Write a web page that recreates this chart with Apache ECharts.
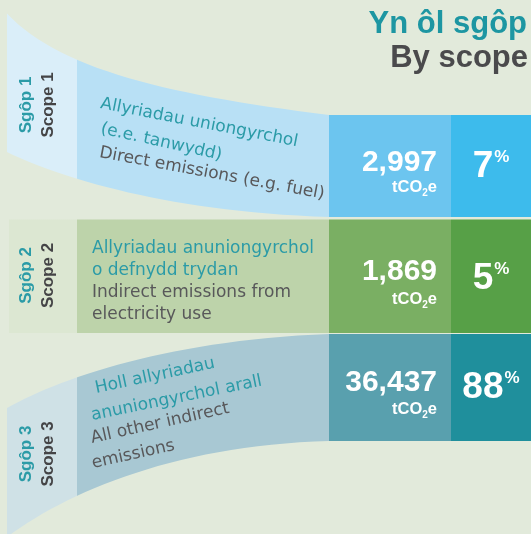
<!DOCTYPE html>
<html>
<head>
<meta charset="utf-8">
<script src="https://cdn.jsdelivr.net/npm/echarts@6/dist/echarts.min.js"></script>
<style>
  html, body { margin: 0; padding: 0; background: #e2eadb; }
  #main { width: 531px; height: 534px; }
</style>
</head>
<body>
<div id="main"></div>
<script>
// data
var scopeWelsh = ['Sgôp 1', 'Sgôp 2', 'Sgôp 3'];
var scopeEnglish = ['Scope 1', 'Scope 2', 'Scope 3'];
var descWelsh = [
  ['Allyriadau uniongyrchol', '(e.e. tanwydd)'],
  ['Allyriadau anuniongyrchol', 'o defnydd trydan'],
  ['Holl allyriadau', 'anuniongyrchol arall']
];
var descEnglish = [
  ['Direct emissions (e.g. fuel)'],
  ['Indirect emissions from', 'electricity use'],
  ['All other indirect', 'emissions']
];
var emissions = [2997, 1869, 36437];   // tCO2e
var shares = [7, 5, 88];               // %
var titleWelsh = 'Yn ôl sgôp';
var titleEnglish = 'By scope';

// layout (pixels, grid maps 1:1)
var BOX_L = 329, BOX_M = 451, BOX_R = 531, STRIP = 77;
var rows = [
  {
    left: 7,
    top: [[7, 13.5], [60, 70], [170, 95], [BOX_L, 115]],
    bottom: [[7, 152], [60, 178], [170, 212], [BOX_L, 217]],
    colors: ['#daeef9', '#b8e0f5', '#6cc5ef', '#3dbbec'],
    labelY: 105,
    lines: [[99, 108, -11], [99, 133, -12.5], [98, 157, -10.5]],
    valueY: 162.5, unitY: 187, pctY: 167
  },
  {
    left: 9,
    top: [[9, 219.5], [100, 219.5], [200, 219.5], [BOX_L, 219.5]],
    bottom: [[9, 333], [100, 333], [200, 333], [BOX_L, 333]],
    colors: ['#dce7d2', '#bdd3aa', '#7aaf63', '#57a047'],
    labelY: 275.5,
    lines: [[92, 253, 0], [92, 275, 0], [92, 297, 0], [92, 319, 0]],
    valueY: 272, unitY: 299, pctY: 278.5
  },
  {
    left: 7,
    top: [[7, 408], [60, 378], [170, 340], [BOX_L, 334]],
    bottom: [[7, 537], [70, 490], [180, 445], [BOX_L, 441]],
    colors: ['#cfe1e6', '#a8c8d3', '#59a0ae', '#1f8f9c'],
    labelY: 454,
    lines: [[97, 393, 12], [93, 420, 11.5], [93, 443, 12.5], [94, 468, 12.5]],
    valueY: 382.5, unitY: 409, pctY: 387.5
  }
];

var TEAL = '#2b9ba7';
var DARK = '#58585a';
var BODY_FONT = '"DejaVu Sans", sans-serif';
var BOLD_FONT = '"Liberation Sans", Arial, sans-serif';

function bez(p, n) {
  var out = [];
  for (var k = 0; k <= n; k++) {
    var t = k / n, u = 1 - t;
    var a = u * u * u, b = 3 * t * u * u, c = 3 * t * t * u, d = t * t * t;
    out.push([a * p[0][0] + b * p[1][0] + c * p[2][0] + d * p[3][0],
              a * p[0][1] + b * p[1][1] + c * p[2][1] + d * p[3][1]]);
  }
  return out;
}

var seriesData = emissions.map(function (v, i) { return [i, v, shares[i]]; });

function renderItem(params, api) {
  var i = api.value(0);
  var value = api.value(1);
  var pct = api.value(2);
  var r = rows[i];
  var P = function (x, y) { return api.coord([x, y]); };
  var children = [];

  // curved / straight band
  var pts = bez(r.top, 30).concat(bez(r.bottom, 30).reverse()).map(function (p) { return P(p[0], p[1]); });
  var x0 = P(r.left, 0)[0], xs = P(STRIP, 0)[0], x1 = P(BOX_L, 0)[0];
  var f = (xs - x0) / (x1 - x0);
  children.push({
    type: 'polygon',
    shape: { points: pts },
    style: {
      fill: new echarts.graphic.LinearGradient(x0, 0, x1, 0, [
        { offset: 0, color: r.colors[0] }, { offset: f, color: r.colors[0] },
        { offset: f, color: r.colors[1] }, { offset: 1, color: r.colors[1] }
      ], true)
    }
  });

  // value box and share box
  var tl = P(BOX_L, r.top[3][1]), bm = P(BOX_M, r.bottom[3][1]), br = P(BOX_R, r.bottom[3][1]);
  children.push({ type: 'rect', shape: { x: tl[0], y: tl[1], width: bm[0] - tl[0], height: bm[1] - tl[1] }, style: { fill: r.colors[2] } });
  children.push({ type: 'rect', shape: { x: bm[0], y: tl[1], width: br[0] - bm[0], height: bm[1] - tl[1] }, style: { fill: r.colors[3] } });

  // vertical scope labels
  var lw = P(26, r.labelY), le = P(48, r.labelY);
  children.push({ type: 'text', x: lw[0], y: lw[1], rotation: Math.PI / 2,
    style: { text: scopeWelsh[i], fill: TEAL, font: 'bold 17px ' + BOLD_FONT, align: 'center', verticalAlign: 'middle' } });
  children.push({ type: 'text', x: le[0], y: le[1], rotation: Math.PI / 2,
    style: { text: scopeEnglish[i], fill: '#444446', font: 'bold 17px ' + BOLD_FONT, align: 'center', verticalAlign: 'middle' } });

  // description lines
  var texts = descWelsh[i].map(function (s) { return [s, TEAL]; })
    .concat(descEnglish[i].map(function (s) { return [s, DARK]; }));
  texts.forEach(function (tx, k) {
    var ln = r.lines[k];
    var p = P(ln[0], ln[1] + 4);
    var rot = ln[2] * Math.PI / 180;
    children.push({ type: 'text', x: p[0], y: p[1], rotation: rot,
      style: { text: tx[0], fill: tx[1], font: '17px ' + BODY_FONT, align: 'left', verticalAlign: 'bottom' } });
  });

  // numbers
  var vp = P(437, r.valueY), up = P(437, r.unitY), pp = P(491, r.pctY);
  children.push({ type: 'text', x: vp[0], y: vp[1],
    style: { text: echarts.format.addCommas(value), fill: '#fff', font: 'bold 30px ' + BOLD_FONT, align: 'right', verticalAlign: 'middle' } });
  children.push({ type: 'text', x: up[0], y: up[1],
    style: { text: '{a|tCO}{b|2}{a|e}', align: 'right', verticalAlign: 'middle',
      rich: {
        a: { fill: '#fff', font: 'bold 16.5px ' + BOLD_FONT, lineHeight: 17 },
        b: { fill: '#fff', font: 'bold 10px ' + BOLD_FONT, lineHeight: 17, verticalAlign: 'bottom', padding: [0, 0, -3, 0] }
      } } });
  children.push({ type: 'text', x: pp[0], y: pp[1],
    style: { text: '{n|' + pct + '}{p|%}', align: 'center', verticalAlign: 'middle',
      rich: {
        n: { fill: '#fff', font: 'bold 37px ' + BOLD_FONT, lineHeight: 36 },
        p: { fill: '#fff', font: 'bold 17px ' + BOLD_FONT, lineHeight: 36, verticalAlign: 'top', padding: [0, 0, 0, 1] }
      } } });

  return { type: 'group', children: children };
}

var chart = echarts.init(document.getElementById('main'));
chart.setOption({
  backgroundColor: '#e2eadb',
  animation: false,
  grid: { left: 0, right: 0, top: 0, bottom: 0 },
  xAxis: { type: 'value', min: 0, max: 531, show: false },
  yAxis: { type: 'value', min: 0, max: 534, inverse: true, show: false },
  graphic: [
    { type: 'text', right: 4, top: 9,
      style: { text: titleWelsh, fill: '#1d96a2', font: 'bold 31px ' + BOLD_FONT } },
    { type: 'text', right: 3, top: 43,
      style: { text: titleEnglish, fill: '#4a4a4c', font: 'bold 31px ' + BOLD_FONT } }
  ],
  series: [{
    type: 'custom',
    coordinateSystem: 'cartesian2d',
    clip: false,
    renderItem: renderItem,
    data: seriesData
  }]
});
</script>
</body>
</html>
